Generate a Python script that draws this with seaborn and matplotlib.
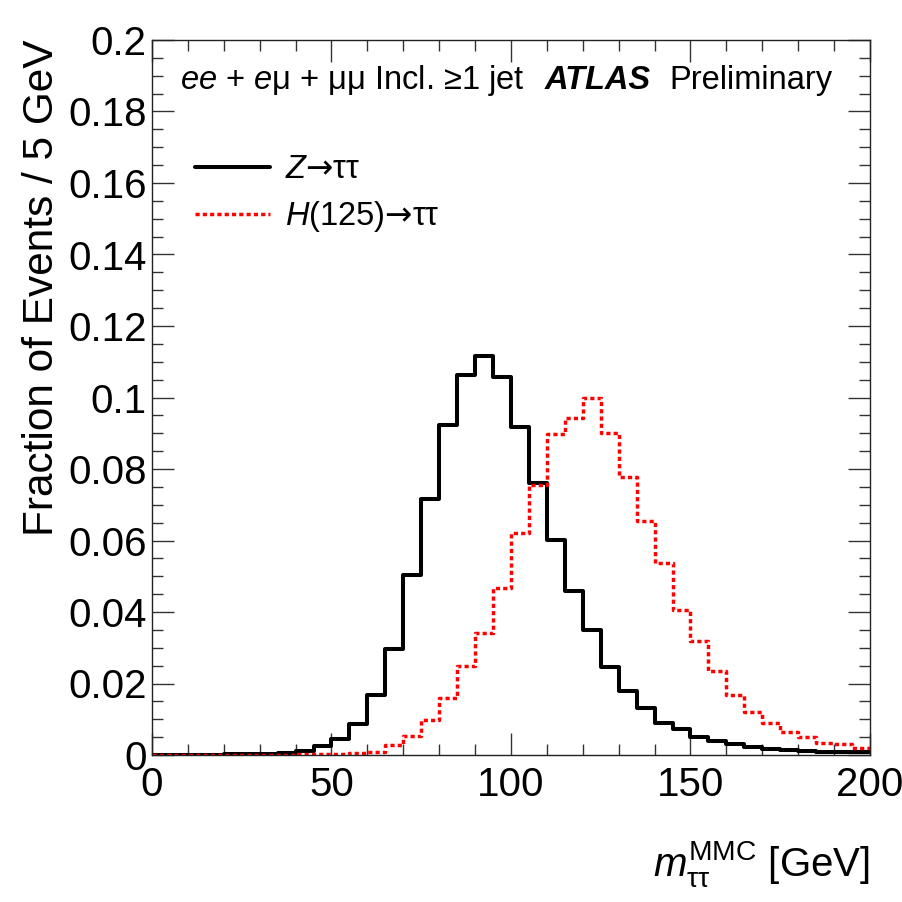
import matplotlib
matplotlib.use('Agg')
import matplotlib.pyplot as plt
from matplotlib.ticker import MultipleLocator, FormatStrFormatter
import seaborn as sns
import numpy as np
import pandas as pd

# bin edges of m_tautau^MMC [GeV], 5 GeV bins
bin_edges = list(range(0, 205, 5))

# fraction of events per bin
z_tautau = [0.0001, 0.0001, 0.0001, 0.0001, 0.0002, 0.0003, 0.0004, 0.0006,
            0.0012, 0.0025, 0.0046, 0.0087, 0.0169, 0.0297, 0.0503, 0.0715,
            0.0922, 0.1064, 0.1116, 0.1056, 0.0917, 0.0760, 0.0601, 0.0460,
            0.0350, 0.0245, 0.0178, 0.0131, 0.0090, 0.0072, 0.0051, 0.0039,
            0.0030, 0.0022, 0.0017, 0.0014, 0.0011, 0.0009, 0.0008, 0.0007]
h_tautau = [0.0001, 0.0001, 0.0001, 0.0001, 0.0001, 0.0001, 0.0001, 0.0001,
            0.0002, 0.0003, 0.0003, 0.0005, 0.0009, 0.0028, 0.0053, 0.0099,
            0.0159, 0.0249, 0.0340, 0.0466, 0.0620, 0.0755, 0.0899, 0.0942,
            0.0998, 0.0902, 0.0779, 0.0655, 0.0536, 0.0406, 0.0320, 0.0236,
            0.0168, 0.0119, 0.0089, 0.0065, 0.0051, 0.0033, 0.0030, 0.0019]

sns.set_style("ticks", rc={
    "text.color": "black",
    "axes.labelcolor": "black",
    "xtick.color": "black",
    "ytick.color": "black",
    "axes.edgecolor": "black",
})
plt.rcParams['font.family'] = ['Liberation Sans', 'DejaVu Sans']
plt.rcParams['mathtext.fontset'] = 'custom'
plt.rcParams['mathtext.rm'] = 'Liberation Sans'
plt.rcParams['mathtext.it'] = 'Liberation Sans:italic'
plt.rcParams['mathtext.bf'] = 'Liberation Sans:bold'
plt.rcParams['mathtext.sf'] = 'DejaVu Sans'

edges = np.array(bin_edges)
centers = (edges[:-1] + edges[1:]) / 2
df = pd.DataFrame({'m': centers, 'z': z_tautau, 'h': h_tautau})

fig = plt.figure(figsize=(9.03, 9.02), dpi=100)
ax = fig.add_axes([152 / 903, 147 / 902, 718 / 903, 715 / 902])

sns.histplot(data=df, x='m', weights='z', bins=bin_edges, element='step',
             fill=False, color='black', linewidth=2.9, ax=ax,
             label=r'$Z\mathsf{→}\mathrm{ττ}$')
sns.histplot(data=df, x='m', weights='h', bins=bin_edges, element='step',
             fill=False, color='#ff0000', linewidth=2.5, ax=ax,
             linestyle=(0, (1.2, 0.9)),
             label=r'$H\mathrm{(125)}\mathsf{→}\mathrm{ττ}$')

ax.set_xlim(0, 200)
ax.set_ylim(0, 0.2)
ax.xaxis.set_major_locator(MultipleLocator(50))
ax.xaxis.set_minor_locator(MultipleLocator(10))
ax.yaxis.set_major_locator(MultipleLocator(0.02))
ax.yaxis.set_minor_locator(MultipleLocator(0.005))
ax.yaxis.set_major_formatter(FormatStrFormatter('%g'))
ax.tick_params(which='both', direction='in', top=True, right=True,
               width=1, color='#333333')
ax.tick_params(which='major', length=16, labelsize=29)
ax.tick_params(which='minor', length=8)
ax.tick_params(axis='x', which='major', pad=8)
ax.tick_params(axis='y', which='major', pad=4)
for s in ax.spines.values():
    s.set_linewidth(1)
    s.set_color('#222222')

ax.set_ylabel('Fraction of Events / 5 GeV', fontsize=30.5, loc='top')
ax.set_xlabel(r'$m_{\mathrm{ττ}}^{\mathrm{MMC}}$ [GeV]', fontsize=29,
              loc='right')
ax.yaxis.set_label_coords(-0.125, 1.0)
ax.xaxis.set_label_coords(1.0, -0.117)

ax.text(0.039, 0.944, r'$ee$ + $e$μ + μμ Incl. ≥1 jet', transform=ax.transAxes,
        fontsize=23.5, va='center', ha='left')
ax.text(0.547, 0.944, 'ATLAS', transform=ax.transAxes, fontsize=23.5,
        fontweight='bold', style='italic', va='center', ha='left')
ax.text(0.721, 0.944, 'Preliminary', transform=ax.transAxes, fontsize=23.5,
        va='center', ha='left')

ax.legend(loc='upper left', bbox_to_anchor=(0.06, 0.84), frameon=False,
          fontsize=23.5, handlelength=2.3, handletextpad=0.45,
          labelspacing=0.42, borderpad=0, borderaxespad=0)

fig.savefig('out.png', dpi=100)
